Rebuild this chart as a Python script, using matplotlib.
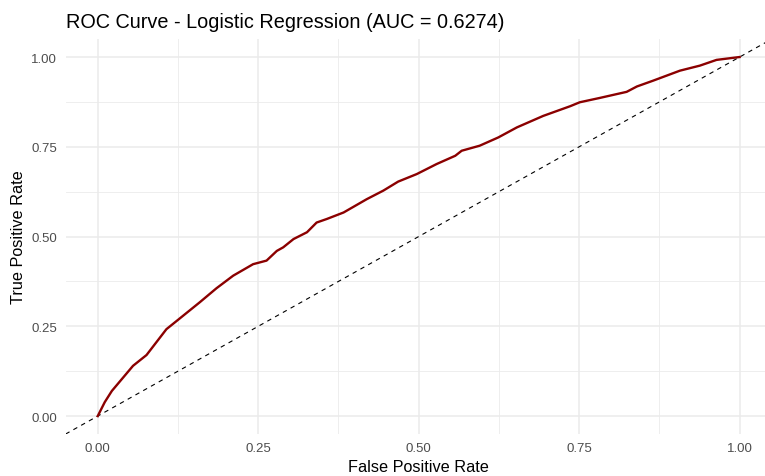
import numpy as np
import matplotlib.pyplot as plt

# ROC curve points
fpr = [0.0, 0.011, 0.022, 0.055, 0.076, 0.107, 0.123, 0.159, 0.185, 0.211, 0.242,
       0.263, 0.279, 0.289, 0.305, 0.326, 0.341, 0.357, 0.383, 0.419, 0.445, 0.468,
       0.497, 0.528, 0.557, 0.567, 0.595, 0.624, 0.653, 0.694, 0.736, 0.751, 0.782,
       0.824, 0.840, 0.865, 0.886, 0.907, 0.938, 0.964, 1.0]
tpr = [0.0, 0.039, 0.070, 0.140, 0.170, 0.242, 0.265, 0.317, 0.356, 0.391, 0.423,
       0.433, 0.460, 0.470, 0.493, 0.512, 0.539, 0.549, 0.567, 0.604, 0.628, 0.653,
       0.674, 0.702, 0.725, 0.739, 0.753, 0.776, 0.804, 0.836, 0.863, 0.874, 0.886,
       0.903, 0.918, 0.934, 0.948, 0.962, 0.976, 0.992, 1.0]
auc = 0.6274
ticks = [0.0, 0.25, 0.5, 0.75, 1.0]
tick_labels = ["0.00", "0.25", "0.50", "0.75", "1.00"]

plt.rcParams['font.family'] = ['Liberation Sans', 'DejaVu Sans']

fig = plt.figure(figsize=(7.65, 4.77), dpi=100)
ax = fig.add_axes([0.0858, 0.088, 0.923, 0.828])

ax.set_xlim(-0.05, 1.05)
ax.set_ylim(-0.05, 1.05)

# grid like theme_minimal
ax.set_xticks(ticks)
ax.set_yticks(ticks)
ax.set_xticks([0.125, 0.375, 0.625, 0.875], minor=True)
ax.set_yticks([0.125, 0.375, 0.625, 0.875], minor=True)
ax.set_xticklabels(tick_labels)
ax.set_yticklabels(tick_labels)
ax.grid(which='major', color='#EBEBEB', linewidth=1.1)
ax.grid(which='minor', color='#EBEBEB', linewidth=0.6)
ax.set_axisbelow(True)
ax.tick_params(which='both', length=0, labelsize=9.5, labelcolor='#4D4D4D', pad=6)
for s in ax.spines.values():
    s.set_visible(False)

ax.axline((0, 0), (1, 1), color='black', linestyle=(0, (4, 4)), linewidth=0.8)
ax.plot(fpr, tpr, color='#8B0000', linewidth=1.7)

ax.set_xlabel("False Positive Rate", fontsize=11.7, labelpad=3)
ax.set_ylabel("True Positive Rate", fontsize=11.7, labelpad=4)
ax.set_title("ROC Curve - Logistic Regression (AUC = %.4f)" % auc, loc='left',
             fontsize=14.3, pad=9)

plt.savefig("out.png", dpi=100)
